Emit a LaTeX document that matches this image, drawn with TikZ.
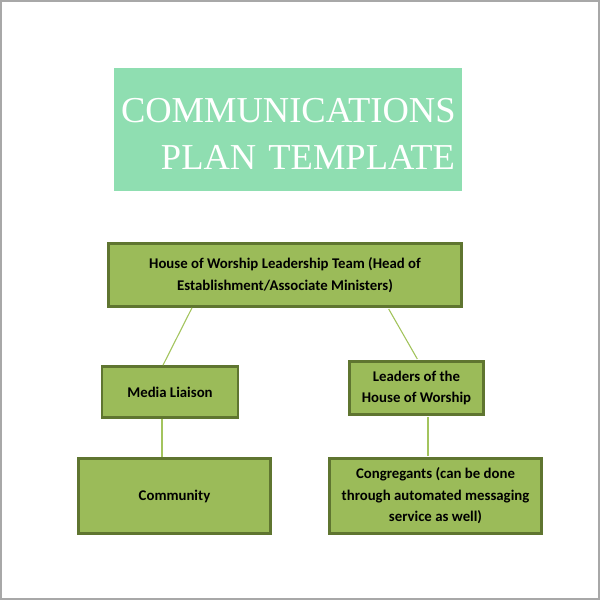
\documentclass[tikz,border=0pt]{standalone}
\usepackage{fontspec}
\setmainfont{Carlito}
\newfontfamily\titlefont{Liberation Serif}
\definecolor{mint}{HTML}{8FDEB1}
\definecolor{olive}{HTML}{9BBB59}
\definecolor{darkolive}{HTML}{5F7530}
\definecolor{linkgreen}{HTML}{A3C45E}
\definecolor{framegray}{HTML}{A8A8A8}

\begin{document}
\begin{tikzpicture}[x=1pt, y=-1pt]
      \tikzstyle{box}=[rectangle, draw=darkolive, line width=2.6pt, fill=olive,
        align=center, inner sep=2pt,
        font=\bfseries\fontsize{14.8}{21.5}\selectfont]
      \tikzstyle{link}=[linkgreen, line width=1.1pt, shorten <=1.4pt, shorten >=1.4pt]

      \useasboundingbox (0,0) rectangle (600,600);
      \draw[framegray, line width=2pt] (1,1) rectangle (599,599);

      % title
      \path (288, 129.5) node[rectangle, fill=mint, minimum width=348pt,
          minimum height=123pt] (titlebox) {};
      \path ([yshift=-4.5pt]titlebox.center) node[text=white, inner sep=0pt,
          text width=334pt, align=right,
          font=\titlefont\fontsize{36.5}{47}\selectfont] (title)
        {COMMUNICATIONS\\PLAN TEMPLATE};

      % boxes
      \path (285, 275) node[box, minimum width=353pt, minimum height=63pt] (lead)
        {House of Worship Leadership Team (Head of\\Establishment/Associate Ministers)};
      \path (170, 392) node[box, minimum width=136pt, minimum height=51pt] (media)
        {Media Liaison};
      \path (416.5, 388) node[box, minimum width=134pt, minimum height=53pt] (leaders)
        {Leaders of the\\House of Worship};
      \path (174.5, 496) node[box, minimum width=192pt, minimum height=75pt] (comm)
        {Community};
      \path (435.5, 496) node[box, minimum width=212pt, minimum height=75pt] (congr)
        {Congregants (can be done\\through automated messaging\\service as well)};

      \draw [link]
        ([xshift=-93pt]lead.south) -- ([xshift=-7pt]media.north)
        ([xshift=103pt]lead.south) -- ([xshift=1.5pt]leaders.north);

      \draw [link]
        ([xshift=-8pt]media.south) -- ([xshift=-8pt]media.south |- comm.north)
        ([xshift=11.5pt]leaders.south) -- ([xshift=11.5pt]leaders.south |- congr.north);
    \end{tikzpicture}
\end{document}
